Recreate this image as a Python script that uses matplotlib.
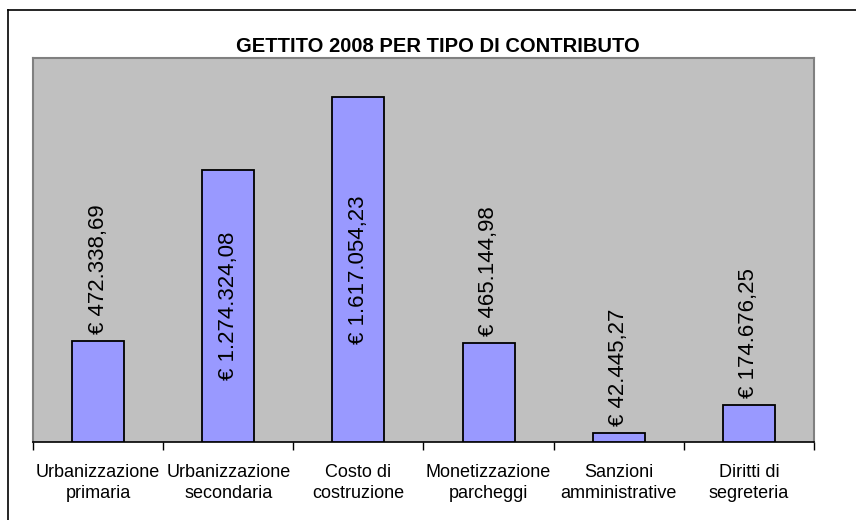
import matplotlib
matplotlib.use("Agg")
import matplotlib.pyplot as plt
from matplotlib.lines import Line2D

categories = ["Urbanizzazione\nprimaria", "Urbanizzazione\nsecondaria", "Costo di\ncostruzione",
              "Monetizzazione\nparcheggi", "Sanzioni\namministrative", "Diritti di\nsegreteria"]
values = [472338.69, 1274324.08, 1617054.23, 465144.98, 42445.27, 174676.25]
value_labels = ["€ 472.338,69", "€ 1.274.324,08", "€ 1.617.054,23", "€ 465.144,98", "€ 42.445,27", "€ 174.676,25"]
inside = [False, True, True, False, False, False]
title = "GETTITO 2008 PER TIPO DI CONTRIBUTO"
ymax = 1800000

plt.rcParams['font.family'] = ['Liberation Sans', 'DejaVu Sans']

W, H = 856, 520
fig = plt.figure(figsize=(W / 100, H / 100), dpi=100)
ax = fig.add_axes([33 / W, 1 - 442 / H, (814 - 33) / W, (442 - 58) / H])
ax.set_facecolor("#C0C0C0")

x = list(range(len(values)))
ax.bar(x, values, width=0.4, color="#9999FF", edgecolor="black", linewidth=1.3, zorder=3)
ax.set_xlim(-0.5, len(values) - 0.5)
ax.set_ylim(0, ymax)
ax.set_yticks([])

for xi, v, lab, ins in zip(x, values, value_labels, inside):
    if ins:
        ax.text(xi, v / 2, lab, rotation=90, ha="center", va="center",
                fontsize=16, color="black", zorder=4)
    else:
        ax.annotate(lab, (xi, v), xytext=(0, 7), textcoords="offset pixels",
                    rotation=90, ha="center", va="bottom", fontsize=16, color="black", zorder=4)

# x ticks at category boundaries, labels at centers
ax.set_xticks([i - 0.5 for i in range(len(values) + 1)])
ax.set_xticklabels([])
ax.tick_params(axis="x", length=6, width=1, color="black", direction="out")
ax.set_xticks(x, minor=True)
ax.set_xticklabels(categories, minor=True, fontsize=13, linespacing=1.3)
ax.tick_params(axis="x", which="minor", length=0, pad=16)

for s in ["left", "right", "top"]:
    ax.spines[s].set_color("#808080")
    ax.spines[s].set_linewidth(1.5)
ax.spines["bottom"].set_color("black")
ax.spines["bottom"].set_linewidth(1.2)

fig.text(438 / W, 1 - 47 / H, title, ha="center", va="center", fontsize=14.5, fontweight="bold")

# outer chart border (left and top visible)
fig.add_artist(Line2D([8 / W, 8 / W], [0, 1 - 10 / H], color="black", linewidth=1.2, transform=fig.transFigure))
fig.add_artist(Line2D([8 / W, 1], [1 - 10 / H, 1 - 10 / H], color="black", linewidth=1.2, transform=fig.transFigure))

fig.savefig("out.png", dpi=100)
